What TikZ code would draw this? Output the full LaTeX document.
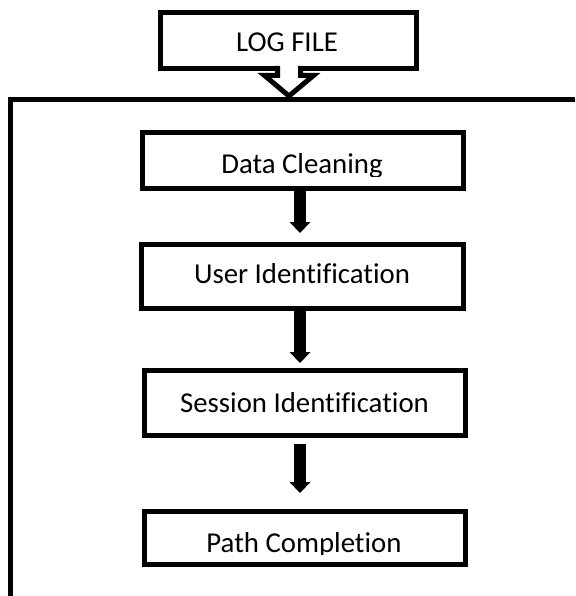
\documentclass[tikz,border=0pt]{standalone}
\usepackage{fontspec}
\setmainfont[Ligatures=NoCommon]{Carlito}
\usetikzlibrary{arrows.meta}
\begin{document}
\begin{tikzpicture}[x=1pt,y=-1pt,
  stepbox/.style={draw=black, line width=5pt, inner sep=0pt, fill=none},
  lbl/.style={anchor=base, inner sep=0pt, font=\fontsize{28.8}{34}\selectfont},
  flow/.style={line width=12pt, -{Triangle[width=21pt,length=11pt,line width=0pt]}},
  blockarrow/.style={draw=black, fill=white, line width=5pt, line join=miter},
  frame/.style={draw=black, line width=5pt, line join=miter}
]
\useasboundingbox (0,0) rectangle (575,596);

% boxes
\node[stepbox, minimum width=256pt, minimum height=55.5pt] (log) at (288.5,40.75) {};
\node[stepbox, minimum width=321pt, minimum height=55.5pt] (dc) at (303,160.75) {};
\node[stepbox, minimum width=322pt, minimum height=63.5pt] (ui) at (302.5,276.25) {};
\node[stepbox, minimum width=321pt, minimum height=65pt] (si) at (305,403) {};
\node[stepbox, minimum width=321pt, minimum height=53.5pt] (pc) at (305,537.75) {};

% labels
\node[lbl] (logt) at (287,52) {LOG FILE};
\begin{scope}
  \clip (140,136) rectangle (470,176.5);
  \node[lbl] (dct) at (302,173.5) {Data Cleaning};
\end{scope}
\node[lbl] (uit) at (302,283) {User Identification};
\node[lbl] (sit) at (304.5,412) {Session Identification};
\begin{scope}
  \clip (140,515) rectangle (470,554);
  \node[lbl] (pct) at (304,552) {Path Completion};
\end{scope}

% block arrow from LOG FILE into the frame
\filldraw[blockarrow]
  ([xshift=-11pt,yshift=5pt]log.south) -- ([xshift=-11pt,yshift=-4.5pt]log.south)
  -- ([xshift=-24pt,yshift=-4.5pt]log.south) -- ([xshift=0.5pt,yshift=-25pt]log.south)
  -- ([xshift=25pt,yshift=-4.5pt]log.south) -- ([xshift=12pt,yshift=-4.5pt]log.south)
  -- ([xshift=12pt,yshift=5pt]log.south);

% outer frame (cut by the page at right and bottom)
\coordinate (fr) at (575,99.5);
\coordinate (fc) at (10.5,99.5);
\coordinate (fb) at (10.5,596);
\draw[frame] (fr) -- (fc) -- (fb);

% flow arrows
\coordinate (ax) at (300,0);
\draw[flow, shorten >=9pt] (dc.south -| ax) -- (ui.north -| ax);
\draw[flow, shorten >=5pt] (ui.south -| ax) -- (si.north -| ax);
\draw[flow, shorten <=6pt, shorten >=15.5pt] (si.south -| ax) -- (pc.north -| ax);
\end{tikzpicture}
\end{document}
